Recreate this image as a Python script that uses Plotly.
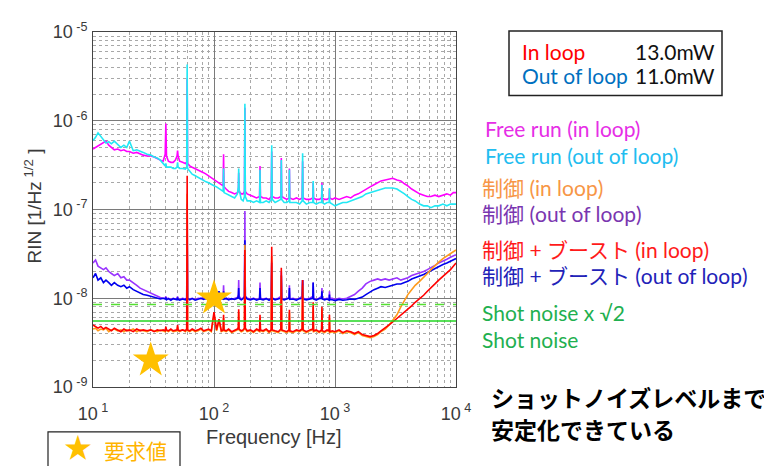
import plotly.graph_objects as go

# ---------------- data ----------------
freq = [10, 10.5, 11, 11.6, 12.2, 12.8, 13.5, 14.2, 15, 16, 17, 18, 19, 20, 21.5, 23, 24.5, 26, 28, 30, 32, 34, 36, 38,
        39.5, 40, 40.5, 42, 44, 46, 48, 49.5, 50, 50.5, 52, 55, 58,
        59.5, 60, 60.5, 63, 66, 70, 74, 78, 82, 86, 90, 95, 100, 105, 110, 115,
        119, 120, 121, 126, 132, 140, 148, 156, 159, 160, 161, 168, 174, 178.5, 180, 181.5, 188,
        200, 212, 225, 238, 240, 242, 255, 270, 285, 297, 300, 303, 320, 340, 357, 360, 363, 380, 400, 417, 420, 423,
        450, 480, 510, 535, 540, 545, 580, 620, 655, 660, 665, 700, 740, 775, 780, 785, 820, 860, 895, 900, 905,
        950, 1000, 1080, 1160, 1250, 1350, 1450, 1560, 1680, 1800, 1950, 2100, 2250, 2400, 2600, 2800, 3000, 3250,
        3500, 3750, 4000, 4300, 4600, 5000, 5400, 5800, 6200, 6700, 7200, 7800, 8400, 9000, 9500, 10000]

# Free run (in loop), units of 1e-7
free_in = [4.8, 5.0, 5.2, 5.4, 5.7, 5.9, 5.3, 5.0, 4.7, 4.8, 4.6, 4.7, 4.5, 4.5, 4.3, 4.4, 4.2, 4.1, 4.0, 4.0, 3.9, 3.7, 3.6, 3.5,
           4.2, 9.3, 4.0, 3.5, 3.4, 3.4, 3.6, 4.0, 4.6, 4.0, 3.5, 3.4, 3.3,
           3.4, 30, 3.3, 3.1, 3.0, 2.9, 2.8, 2.7, 2.6, 2.5, 2.4, 2.3, 2.2, 2.1, 2.0, 1.9,
           1.85, 4.2, 1.8, 1.7, 1.6, 1.55, 1.5, 1.55, 1.6, 2.6, 1.6, 1.5, 1.5, 1.6, 14.0, 1.6, 1.5,
           1.45, 1.4, 1.35, 1.4, 3.1, 1.4, 1.35, 1.35, 1.3, 1.4, 4.5, 1.4, 1.35, 1.35, 1.4, 3.8, 1.4, 1.35, 1.3, 1.35, 2.9, 1.35,
           1.3, 1.35, 1.3, 1.35, 3.5, 1.35, 1.3, 1.3, 1.35, 2.0, 1.35, 1.3, 1.3, 1.35, 2.0, 1.35, 1.3, 1.3, 1.35, 1.7, 1.35,
           1.3, 1.35, 1.3, 1.35, 1.4, 1.35, 1.45, 1.5, 1.6, 1.7, 1.8, 1.9, 2.0, 2.1, 2.15, 2.2, 2.25, 2.15,
           2.1, 1.95, 1.85, 1.7, 1.6, 1.5, 1.45, 1.4, 1.4, 1.45, 1.4, 1.45, 1.5, 1.45, 1.55, 1.55]

# Free run (out of loop), units of 1e-7
free_out = [6.0, 6.5, 7.3, 6.6, 6.0, 5.6, 5.8, 5.5, 5.9, 5.4, 5.0, 5.3, 5.0, 5.9, 4.6, 4.7, 4.5, 4.4, 4.2, 4.1, 3.9, 3.8, 3.6, 3.3,
            3.1, 3.3, 3.0, 3.0, 3.0, 2.9, 2.9, 3.0, 3.4, 3.0, 2.9, 2.9, 2.85,
            3.0, 43, 2.9, 2.7, 2.5, 2.4, 2.3, 2.2, 2.1, 2.05, 2.0, 1.9, 1.85, 1.8, 1.7, 1.65,
            1.6, 2.9, 1.55, 1.5, 1.45, 1.4, 1.35, 1.5, 1.8, 2.9, 1.7, 1.3, 1.25, 1.4, 15.5, 1.4, 1.25,
            1.25, 1.2, 1.25, 1.2, 2.8, 1.2, 1.2, 1.25, 1.2, 1.3, 5.3, 1.3, 1.2, 1.25, 1.3, 3.6, 1.3, 1.2, 1.2, 1.25, 2.8, 1.2,
            1.2, 1.2, 1.15, 1.25, 4.3, 1.25, 1.15, 1.2, 1.2, 2.1, 1.2, 1.15, 1.2, 1.2, 1.9, 1.2, 1.15, 1.2, 1.2, 1.75, 1.2,
            1.15, 1.1, 1.15, 1.2, 1.2, 1.25, 1.3, 1.35, 1.4, 1.5, 1.55, 1.6, 1.65, 1.7, 1.75, 1.75, 1.75, 1.7,
            1.6, 1.5, 1.4, 1.3, 1.25, 1.15, 1.1, 1.1, 1.05, 1.1, 1.1, 1.15, 1.1, 1.15, 1.15, 1.15]

# 制御 (out of loop), units of 1e-9
ctrl_out = [25, 27, 23, 22, 21, 22, 20, 19, 18, 19, 17, 17.5, 16, 16, 15, 14, 13, 12.5, 12, 11.5, 11, 10.5, 10.2, 10,
            10, 10.5, 9.9, 10, 9.7, 10, 9.8, 10, 10.5, 9.8, 9.7, 10, 9.8,
            10, 115, 10, 9.8, 10, 9.7, 10, 9.9, 10.2, 9.8, 10, 9.6, 10, 9.5, 9.8, 10,
            10, 14, 10, 9.8, 10, 9.7, 10, 10.2, 11, 16, 10.5, 9.8, 10, 10.5, 96, 10.5, 10,
            9.8, 10, 9.7, 10, 15, 10, 9.8, 10, 9.6, 10, 26, 10, 9.8, 10, 10.5, 20, 10, 9.7, 10, 10, 14, 9.8,
            10, 9.7, 10, 10.5, 16, 10, 9.8, 10, 10.5, 15, 10, 9.7, 10, 10.5, 13, 10, 9.8, 10, 9.7, 12, 10,
            10, 9.7, 10, 9.8, 10, 10.5, 11, 12, 13, 14.5, 15.5, 16, 16.5, 16, 16.5, 16, 16.5, 17,
            16, 16.5, 17, 18, 18.5, 19, 20, 21, 22, 23.5, 25, 26, 27.5, 29, 30, 31]

# 制御 + ブースト (out of loop), units of 1e-9
boost_out = [17, 19, 16, 17, 15, 16, 15, 14, 15, 14, 13.5, 14, 13, 13.5, 12.5, 12, 11.5, 11, 10.8, 10.5, 10.2, 10, 9.8, 10,
             9.8, 10.2, 9.6, 9.9, 9.5, 9.9, 9.7, 9.6, 10.2, 9.7, 9.5, 9.8, 9.6,
             10, 53, 10, 9.6, 9.9, 9.5, 9.8, 10, 9.7, 10, 9.6, 9.8, 11, 10, 12, 9.8,
             9.8, 12, 9.8, 10, 9.6, 9.9, 9.7, 10, 10.5, 13, 10, 9.6, 9.9, 10.5, 45, 10.5, 9.8,
             9.6, 9.9, 9.5, 9.8, 13, 9.8, 9.6, 9.9, 9.5, 10, 25, 10, 9.6, 9.9, 10, 18, 9.8, 9.6, 9.8, 10, 13, 9.7,
             9.8, 9.5, 9.9, 10, 16, 9.8, 9.6, 9.9, 10, 15, 9.8, 9.5, 9.9, 10, 12, 9.8, 9.6, 9.8, 9.5, 11, 9.6,
             9.6, 9.4, 9.7, 9.5, 9.6, 9.8, 9.7, 10, 10.3, 11, 11.8, 12.5, 13, 13.5, 13.2, 13.5, 14, 14.5,
             14.5, 15, 15.5, 16.5, 17, 17.8, 18.5, 19.5, 20.5, 21.5, 23, 24, 25, 26, 27, 28]

# 制御 (in loop), units of 1e-9
ctrl_in = [4.5, 4.6, 4.3, 4.5, 4.4, 4.6, 4.2, 4.4, 4.5, 4.3, 4.4, 4.2, 4.4, 4.3, 4.5, 4.2, 4.4, 4.3, 4.2, 4.4, 4.3, 4.2, 4.4, 4.3,
           4.2, 4.6, 4.3, 4.2, 4.4, 4.2, 4.3, 4.3, 4.8, 4.3, 4.2, 4.4, 4.2,
           4.4, 150, 4.3, 4.2, 4.4, 4.2, 4.3, 4.5, 4.2, 4.3, 4.4, 4.2, 6.5, 4.3, 5.5, 4.2,
           4.3, 6, 4.3, 4.2, 4.4, 4.1, 4.3, 4.4, 4.6, 7, 4.4, 4.2, 4.3, 4.5, 40, 4.5, 4.2,
           4.3, 4.1, 4.4, 4.2, 6, 4.3, 4.2, 4.4, 4.1, 4.3, 30, 4.3, 4.2, 4.1, 4.4, 18, 4.3, 4.2, 4.1, 4.3, 7, 4.2,
           4.1, 4.3, 4.2, 4.4, 14, 4.3, 4.1, 4.3, 4.4, 8, 4.2, 4.3, 4.1, 4.3, 7.5, 4.2, 4.1, 4.3, 4.2, 6, 4.1,
           4.2, 4.1, 4.3, 4.0, 4.2, 4.1, 3.9, 4.1, 3.8, 3.7, 3.6, 3.7, 3.9, 4.2, 4.5, 5.0, 5.6, 6.5,
           8.0, 9.5, 11, 12.5, 14, 15.5, 17, 19, 21, 23.5, 25.5, 28, 30, 32, 34, 35]

# 制御 + ブースト (in loop), units of 1e-9
boost_in = [5.0, 4.8, 4.6, 4.8, 4.5, 4.7, 4.5, 4.3, 4.6, 4.4, 4.2, 4.5, 4.3, 4.4, 4.2, 4.5, 4.3, 4.4, 4.3, 4.4, 4.2, 4.4, 4.3, 4.4,
            4.3, 4.8, 4.4, 4.3, 4.5, 4.3, 4.4, 4.4, 5.0, 4.4, 4.3, 4.4, 4.3,
            4.5, 240, 4.4, 4.3, 4.5, 4.3, 4.4, 4.6, 4.3, 4.4, 4.5, 4.3, 7.0, 4.4, 5.8, 4.3,
            4.4, 6.5, 4.4, 4.3, 4.5, 4.2, 4.4, 4.5, 4.7, 7.5, 4.5, 4.3, 4.4, 4.6, 35, 4.6, 4.3,
            4.4, 4.2, 4.5, 4.3, 6.5, 4.4, 4.3, 4.5, 4.2, 4.4, 38, 4.4, 4.3, 4.2, 4.5, 22, 4.4, 4.3, 4.2, 4.4, 7.4, 4.3,
            4.2, 4.4, 4.3, 4.5, 16, 4.4, 4.2, 4.4, 4.5, 9, 4.3, 4.4, 4.2, 4.4, 8, 4.3, 4.2, 4.4, 4.3, 6.5, 4.2,
            4.3, 4.2, 4.4, 4.1, 4.3, 4.2, 4.0, 4.2, 3.9, 3.8, 3.7, 3.8, 4.0, 4.3, 4.6, 5.0, 5.4, 5.9,
            6.4, 7.0, 7.4, 8.2, 9.0, 9.8, 10.8, 12, 13, 14.5, 16, 17.5, 19.5, 21, 23, 25]

shot_noise = 5.55e-9
shot_noise_sqrt2 = 8.5e-9
shot_x = [10, 10000]

req_f = [30, 100]
req_v = [2.0e-9, 1.0e-8]

x_tickvals = [10, 100, 1000, 10000]
x_ticktext = ["10<sup> 1</sup>", "10<sup> 2</sup>", "10<sup> 3</sup>", "10<sup> 4</sup>"]
y_tickvals = [1e-9, 1e-8, 1e-7, 1e-6, 1e-5]
y_ticktext = ["10<sup> -9</sup>", "10<sup> -8</sup>", "10<sup> -7</sup>", "10<sup> -6</sup>", "10<sup> -5</sup>"]

# ---------------- figure ----------------
W, H = 772, 466
OFF = 8  # page body margin
L, R, T, B = 93 - OFF, 456 - OFF, 23 - OFF, 387 - OFF


def px(x):
    return (x - OFF - L) / (R - L)


def py(y):
    return (B - (y - OFF)) / (B - T)


fig = go.Figure()


def add_line(vals, scale, color, width=1.6):
    fig.add_trace(go.Scatter(x=freq, y=[v * scale for v in vals], mode="lines",
                             line=dict(color=color, width=width), showlegend=False,
                             hoverinfo="skip"))


add_line(free_in, 1e-7, "#ff00ff")
add_line(free_out, 1e-7, "#22e8f4")
add_line(ctrl_out, 1e-9, "#9933ff")
add_line(boost_out, 1e-9, "#0000ee")
add_line(ctrl_in, 1e-9, "#ff9a1a")
add_line(boost_in, 1e-9, "#ff0000")

fig.add_trace(go.Scatter(x=shot_x, y=[shot_noise_sqrt2] * 2, mode="lines",
                         line=dict(color="#55e033", width=1.6, dash="dash"), showlegend=False))
fig.add_trace(go.Scatter(x=shot_x, y=[shot_noise] * 2, mode="lines",
                         line=dict(color="#22d622", width=1.4), showlegend=False))
fig.add_trace(go.Scatter(x=req_f, y=req_v, mode="markers",
                         marker=dict(symbol="star", size=27, color="#ffc000", line=dict(width=0)),
                         showlegend=False))

axis_common = dict(type="log", showline=True, linecolor="#444", linewidth=1, mirror=True,
                   showgrid=True, gridcolor="#7a7a7a", gridwidth=1,
                   ticks="", tickfont=dict(family="Liberation Sans, Arial", size=18, color="#3a3a3a"),
                   zeroline=False,
                   minor=dict(dtick="D1", showgrid=True, gridcolor="#a8a8a8", griddash="dot", gridwidth=1))

fig.update_xaxes(**axis_common, range=[1, 4], tickvals=x_tickvals, ticktext=x_ticktext,
                 ticklabelstandoff=10)
fig.update_yaxes(**axis_common, range=[-9, -5], tickvals=y_tickvals, ticktext=y_ticktext,
                 ticklabelstandoff=1)

ann = []
# axis titles
ann.append(dict(x=px(274), y=py(438), xref="paper", yref="paper", text="Frequency [Hz]",
                xanchor="center", yanchor="middle",
                showarrow=False, font=dict(family="Liberation Sans, Arial", size=20, color="#3a3a3a")))
ann.append(dict(x=px(33), y=py(202), xref="paper", yref="paper", text="RIN [1/Hz<sup> 1/2</sup> ]",
                xanchor="center", yanchor="middle",
                textangle=-90, showarrow=False,
                font=dict(family="Liberation Sans, Arial", size=19, color="#3a3a3a")))

# legend texts
lf = "Lato, Noto Sans CJK JP"
legend_items = [
    ("Free run (in loop)", "#e62ee6", 483, 122),
    ("Free run (out of loop)", "#22bdf0", 483, 150),
    ("制御 (in loop)", "#f79646", 480, 182),
    ("制御 (out of loop)", "#7a36b0", 480, 209),
    ("制御 + ブースト (in loop)", "#ff1a1a", 480, 246),
    ("制御 + ブースト (out of loop)", "#2222b8", 480, 273),
    ("Shot noise x √2", "#1fb050", 480, 311),
    ("Shot noise", "#1fb050", 480, 338),
]
for text, color, x0, y0 in legend_items:
    ann.append(dict(x=px(x0), y=py(y0), xref="paper", yref="paper", text=text, showarrow=False,
                    xanchor="left", yanchor="middle", font=dict(family=lf, size=21, color=color)))

# power box
ann.append(dict(x=px(520), y=py(43), xref="paper", yref="paper", text="In loop", showarrow=False,
                xanchor="left", yanchor="middle", font=dict(family=lf, size=21, color="#ff0000")))
ann.append(dict(x=px(520), y=py(68), xref="paper", yref="paper", text="Out of loop", showarrow=False,
                xanchor="left", yanchor="middle", font=dict(family=lf, size=21, color="#0070c0")))
ann.append(dict(x=px(717), y=py(43), xref="paper", yref="paper", text="13.0mW", showarrow=False,
                xanchor="right", yanchor="middle", font=dict(family=lf, size=21, color="#111")))
ann.append(dict(x=px(717), y=py(68), xref="paper", yref="paper", text="11.0mW", showarrow=False,
                xanchor="right", yanchor="middle", font=dict(family=lf, size=21, color="#111")))

# conclusion text
cf = "Noto Sans CJK JP"
ann.append(dict(x=px(489), y=py(397), xref="paper", yref="paper", text="<b>ショットノイズレベルまで</b>",
                showarrow=False, xanchor="left", yanchor="middle", font=dict(family=cf, size=23, color="#000")))
ann.append(dict(x=px(489), y=py(430), xref="paper", yref="paper", text="<b>安定化できている</b>",
                showarrow=False, xanchor="left", yanchor="middle", font=dict(family=cf, size=23, color="#000")))

# requirement legend
ann.append(dict(x=px(78), y=py(448), xref="paper", yref="paper", text="★",
                showarrow=False, xanchor="center", yanchor="middle",
                font=dict(family=cf, size=28, color="#ffc000")))
ann.append(dict(x=px(102), y=py(452), xref="paper", yref="paper", text="要求値",
                showarrow=False, xanchor="left", yanchor="middle",
                font=dict(family=cf, size=21, color="#ffb400")))

shapes = [
    dict(type="rect", xref="paper", yref="paper", x0=px(509), x1=px(722), y0=py(88), y1=py(22),
         line=dict(color="#222", width=1.5)),
    dict(type="rect", xref="paper", yref="paper", x0=px(48), x1=px(180), y0=py(480), y1=py(433),
         line=dict(color="#222", width=1.2)),
]

fig.update_layout(width=W, height=H, margin=dict(l=L, r=W - R, t=T, b=H - B),
                  paper_bgcolor="white", plot_bgcolor="white", annotations=ann, shapes=shapes,
                  showlegend=False)

fig.write_html("out.html")
